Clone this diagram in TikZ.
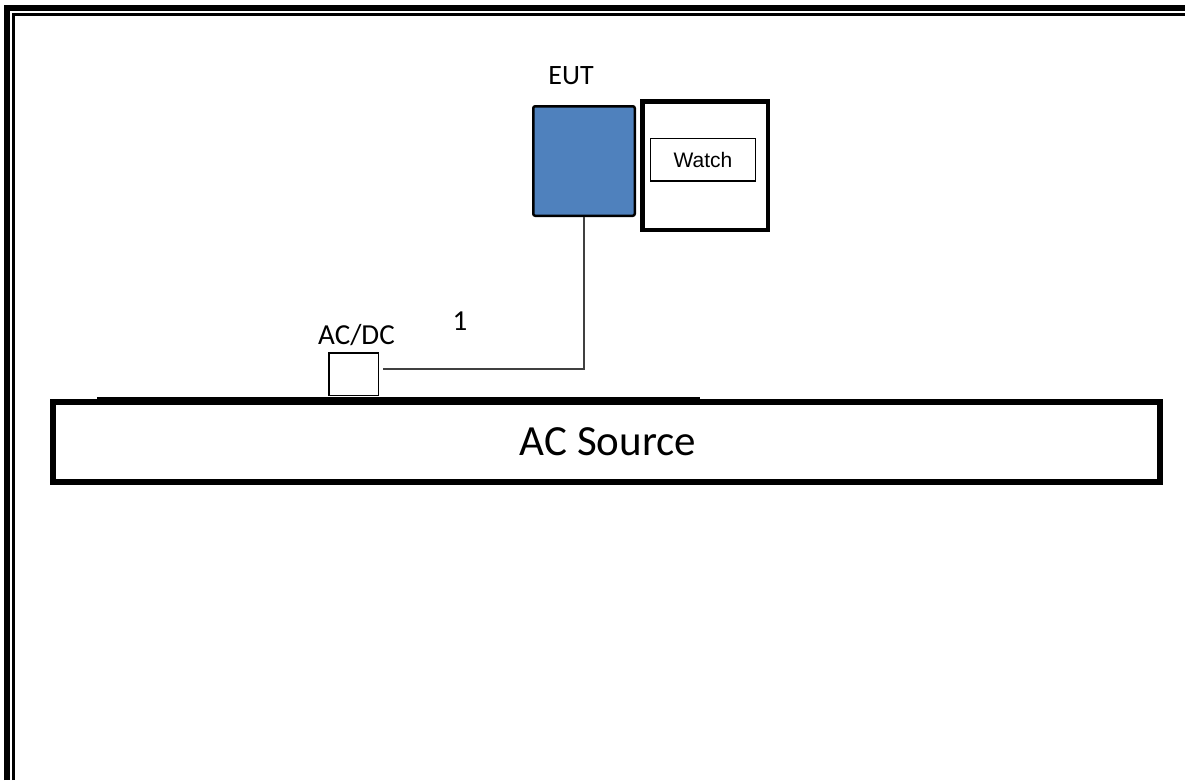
\documentclass[tikz,border=0pt]{standalone}
\usepackage{fontspec}
\setmainfont{Carlito}
\newfontfamily\arialf{Liberation Sans}
\definecolor{eutblue}{HTML}{4F81BD}
\definecolor{wiregray}{HTML}{404040}
\tikzset{
  box/.style={draw=black, fill=white, inner sep=0pt, anchor=center},
  lbl/.style={inner sep=0pt, anchor=center, text=black},
  wire/.style={draw=wiregray, line width=2pt},
}
\begin{document}
\begin{tikzpicture}[x=1pt,y=-1pt]
\path[use as bounding box, fill=white] (0,0) rectangle (1185,780);
% page border
\draw[line width=6.5pt] (7,780) -- (7,8) -- (1185,8);
\draw[line width=2.2pt] (13.5,780) -- (13.5,14.5) -- (1185,14.5);
% EUT
\node[box, fill=eutblue, line width=2.5pt, rounded corners=2pt, minimum width=101.5pt, minimum height=109.5pt] (eut) at (584,161) {};
\node[lbl, font=\fontsize{28}{32}\selectfont] (eutlbl) at (571,76) {EUT};
% watch frame
\node[box, line width=4.5pt, minimum width=125.5pt, minimum height=128.5pt] (frame) at (705,165.5) {};
\node[box, line width=1.3pt, minimum width=104.7pt, minimum height=42.7pt, font=\arialf\fontsize{21}{24}\selectfont] (watch) at (703,159.5) {Watch};
% AC/DC
\node[box, line width=1.5pt, minimum width=49.5pt, minimum height=42.5pt] (acdc) at (353.5,374) {};
\node[lbl, font=\fontsize{29}{32}\selectfont] (acdclbl) at (356.5,335) {AC/DC};
\node[lbl, font=\fontsize{29}{32}\selectfont] (one) at (460,321.5) {1};
% AC source
\node[box, line width=6pt, minimum width=1107pt, minimum height=79.5pt] (src) at (606.5,441.75) {};
\node[lbl, font=\fontsize{43}{48}\selectfont] (srclbl) at (608,442) {AC Source};
\draw[line width=1.5pt] (97,398) -- (700,398);
% wire
\draw[wire] ([xshift=4pt,yshift=5.5pt]acdc.east) -| (eut.south);
\end{tikzpicture}
\end{document}
